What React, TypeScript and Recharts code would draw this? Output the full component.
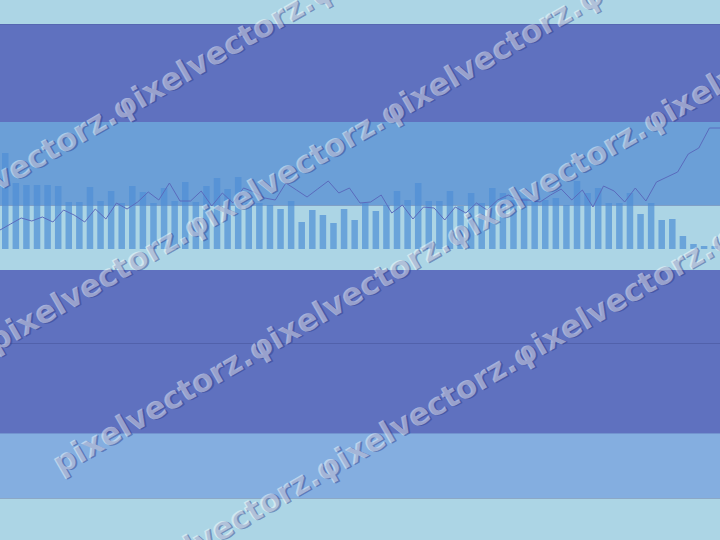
import React from "react";
import { BarChart, Bar, LineChart, Line, XAxis, YAxis } from "recharts";

// column heights, left to right (arbitrary units, 0 = baseline)
const barValues = [
  96, 66, 64, 64, 64, 63, 47, 47, 62, 48, 58, 46, 63, 57, 46, 61, 48, 67, 47,
  63, 71, 60, 72, 46, 46, 44, 40, 48, 27, 39, 34, 26, 40, 29, 46, 38, 44, 58,
  49, 66, 48, 48, 58, 43, 56, 46, 61, 56, 49, 51, 52, 49, 51, 44, 68, 56, 61,
  46, 46, 56, 35, 46, 29, 30, 13, 5, 3, 3,
];

// line points, sitting on the boundaries between columns (one more than bars)
const lineValues = [
  19, 25, 31, 28, 32, 27, 39, 34, 27, 40, 30, 46, 40, 47, 57, 49, 66, 48, 48,
  58, 43, 56, 46, 61, 57, 51, 49, 66, 59, 52, 60, 68, 56, 61, 46, 47, 54, 36,
  44, 30, 42, 41, 29, 42, 36, 46, 39, 49, 54, 49, 49, 47, 54, 60, 49, 59, 42,
  63, 58, 47, 61, 48, 67, 72, 77, 95, 101, 121, 121,
];

const categories = barValues.map((_, i) => String(i + 1));
const steps = lineValues.map((_, k) => String(k));

const barData = categories.map((name, i) => ({ name, value: barValues[i] }));
const lineData = steps.map((step, k) => ({ step, value: lineValues[k] }));

// background stripes
const BANDS = [
  { top: 0, height: 24, color: "#acd5e5" },
  { top: 24, height: 98, color: "#5f71bf" },
  { top: 122, height: 83, color: "#6b9fd7" },
  { top: 205, height: 65, color: "#acd5e5" },
  { top: 270, height: 163, color: "#5f71bf" },
  { top: 433, height: 65, color: "#84aee0" },
  { top: 498, height: 42, color: "#acd5e5" },
];
const RULES = [
  { top: 24, color: "#5667b1" },
  { top: 205, color: "#7f9fc6" },
  { top: 343, color: "#5161ab" },
  { top: 433, color: "#7293cf" },
  { top: 498, color: "#8ca8c6" },
];

const WATERMARK = "pixelvectorz.φixelvectorz.φixelvectorz.φixelvectorz.";
const WATERMARK_ROWS = [
  { x: -76, y: 234 },
  { x: -5, y: 353 },
  { x: 60, y: 475 },
  { x: 127, y: 595 },
];

const CHART_W = 720;
const CHART_H = 130;
const CHART_TOP = 119;
const margin = { top: 0, right: 0, bottom: 0, left: 0 };

export default function App() {
  return (
    <div
      style={{
        position: "fixed",
        left: 0,
        top: 0,
        width: 720,
        height: 540,
        overflow: "hidden",
        background: "#acd5e5",
      }}
    >
      {BANDS.map((b, i) => (
        <div
          key={"b" + i}
          style={{
            position: "absolute",
            left: 0,
            top: b.top,
            width: 720,
            height: b.height,
            background: b.color,
          }}
        />
      ))}
      {RULES.map((r, i) => (
        <div
          key={"r" + i}
          style={{
            position: "absolute",
            left: 0,
            top: r.top,
            width: 720,
            height: 1,
            background: r.color,
          }}
        />
      ))}

      {/* BARS */}
      <div style={{ position: "absolute", left: 0, top: CHART_TOP }}>
        <BarChart width={CHART_W} height={CHART_H} data={barData} margin={margin}>
          <XAxis dataKey="name" hide />
          <YAxis hide domain={[0, 130]} />
          <Bar
            dataKey="value"
            fill="#4f8fd6"
            fillOpacity={0.7}
            barSize={6.5}
            isAnimationActive={false}
          />
        </BarChart>
      </div>

      {/* LINE */}
      <div style={{ position: "absolute", left: 0, top: CHART_TOP }}>
        <LineChart width={CHART_W} height={CHART_H} data={lineData} margin={margin}>
          <XAxis dataKey="step" hide />
          <YAxis hide domain={[0, 130]} />
          <Line
            type="linear"
            dataKey="value"
            stroke="#5a6bbd"
            strokeWidth={1}
            dot={false}
            isAnimationActive={false}
          />
        </LineChart>
      </div>

      {/* WATERMARK */}
      <svg
        width={720}
        height={540}
        style={{ position: "absolute", left: 0, top: 0 }}
      >
        {WATERMARK_ROWS.map((p, i) => (
          <g key={i} transform={`rotate(-30 ${p.x} ${p.y})`}>
            <text
              x={p.x + 1.5}
              y={p.y + 1.5}
              fontFamily="DejaVu Sans"
              fontWeight="bold"
              fontSize={31}
              fill="#2e3c88"
              fillOpacity={0.45}
            >
              {WATERMARK}
            </text>
            <text
              x={p.x}
              y={p.y}
              fontFamily="DejaVu Sans"
              fontWeight="bold"
              fontSize={31}
              fill="#ffffff"
              fillOpacity={0.45}
            >
              {WATERMARK}
            </text>
          </g>
        ))}
      </svg>
    </div>
  );
}
